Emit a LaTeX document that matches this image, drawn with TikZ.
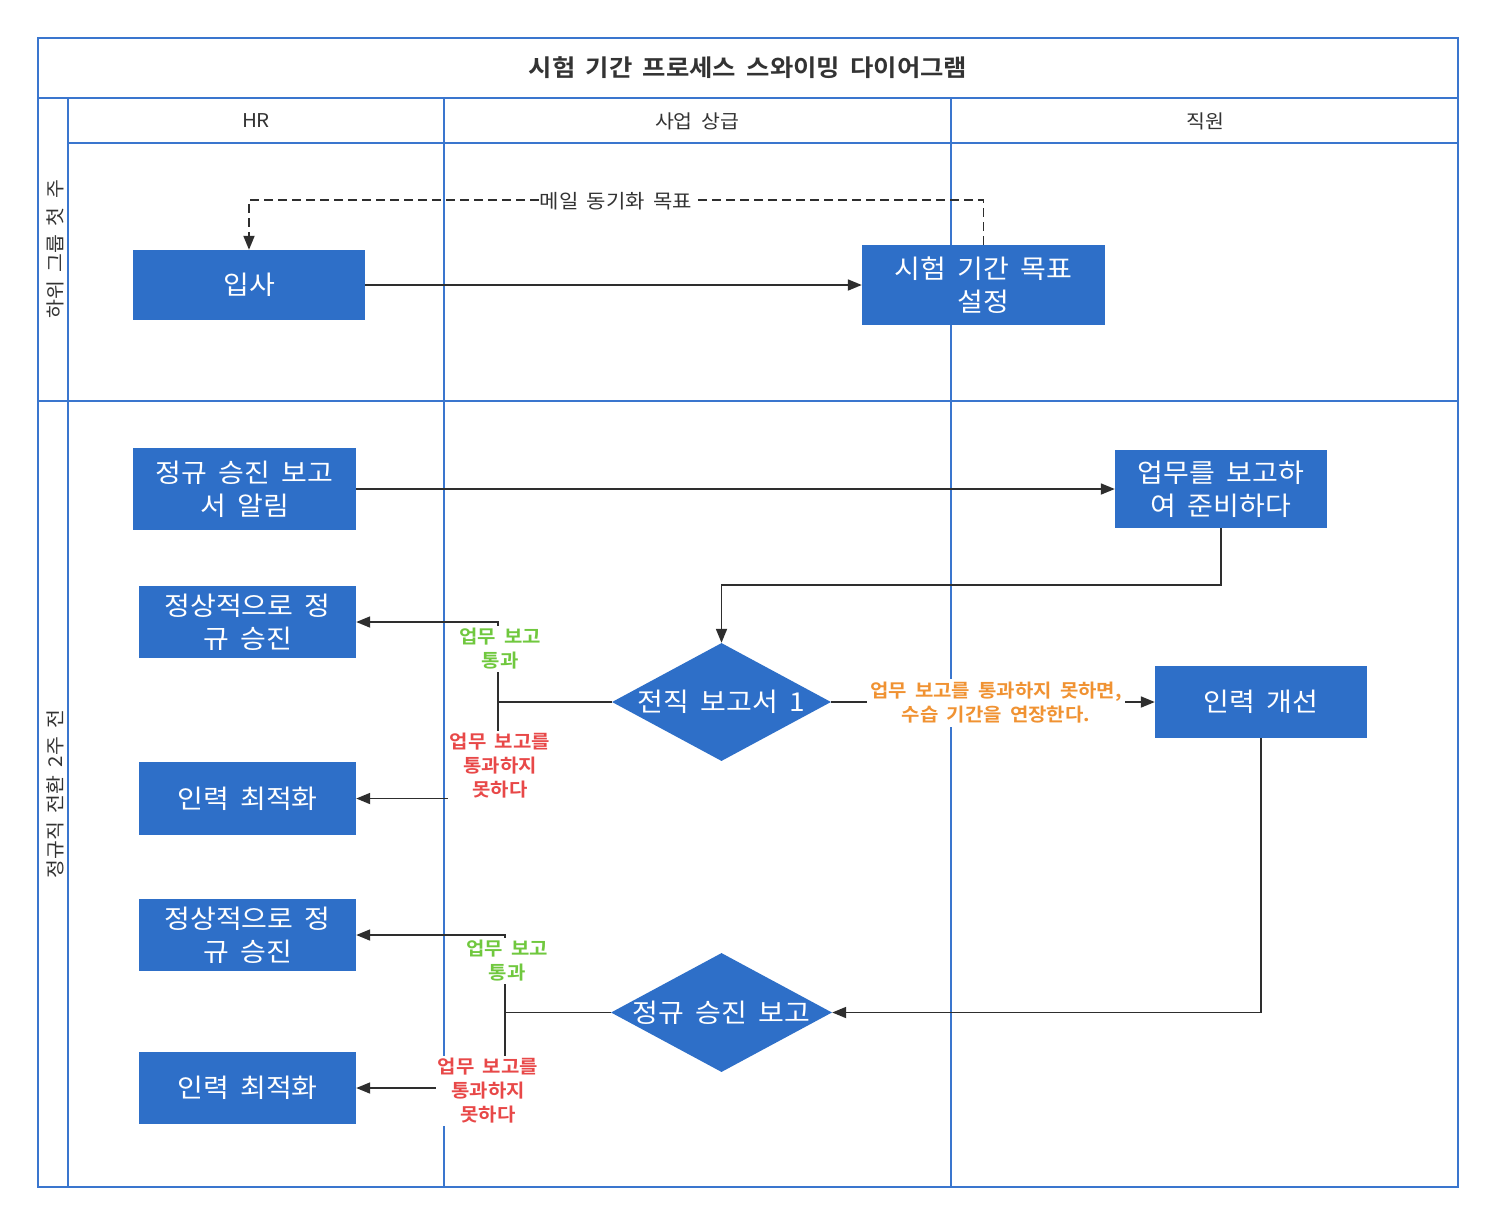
\documentclass[tikz,border=0pt]{standalone}
\usepackage{fontspec}
\setmainfont{Noto Sans CJK KR}[BoldFont={Noto Sans CJK KR Bold},FakeStretch=1.08,WordSpace=1.8]
\usetikzlibrary{arrows.meta,shapes.geometric}
\definecolor{lanecol}{RGB}{58,118,206}
\definecolor{boxblue}{RGB}{46,111,200}
\definecolor{txtcol}{RGB}{51,51,51}
\definecolor{okgreen}{RGB}{112,200,62}
\definecolor{nored}{RGB}{232,72,72}
\definecolor{orng}{RGB}{240,146,50}
\begin{document}
\begin{tikzpicture}[x=1pt,y=-1pt,
  laneline/.style={draw=lanecol,line width=2.6pt},
  hdr/.style={text=txtcol,font=\fontsize{19}{23}\selectfont,inner sep=0pt},
  proc/.style={fill=boxblue,draw=none,text=white,align=center,inner sep=0pt,
    font=\fontsize{26}{33}\selectfont},
  decision/.style={diamond,fill=boxblue,draw=none,text=white,inner sep=0pt,
    font=\fontsize{26}{33}\selectfont},
  conn/.style={draw=txtcol!90!black,line width=1.8pt,-{Triangle[length=14pt,width=11pt]}},
  elabel/.style={fill=white,inner sep=2pt,align=center,font=\bfseries\fontsize{18.5}{24}\selectfont}
]
\useasboundingbox[fill=white] (0,0) rectangle (1495,1224);

% swimlane grid
\draw[laneline] (38,38) rectangle (1458,1187);
\draw[laneline] (38,98) -- (1458,98);
\draw[laneline] (68,143) -- (1458,143);
\draw[laneline] (68,98) -- (68,1187);
\draw[laneline] (444,98) -- (444,1187);
\draw[laneline] (951,98) -- (951,1187);
\draw[laneline] (38,401) -- (1458,401);

\node[text=txtcol,font=\bfseries\fontsize{23.5}{27}\selectfont] (title) at (748,68) {시험 기간 프로세스 스와이밍 다이어그램};
\node[hdr] (hHR) at (256,121) {HR};
\node[hdr] (hBoss) at (697,121) {사업 상급};
\node[hdr] (hEmp) at (1205,121) {직원};
\node[hdr,rotate=90] (lane1) at (55,249) {하위 그룹 첫 주};
\node[hdr,rotate=90] (lane2) at (55,794) {정규직 전환 2주 전};

% nodes
\node[proc,minimum width=232pt,minimum height=70pt] (join) at (249,285) {입사};
\node[proc,minimum width=243pt,minimum height=80pt] (goal) at (983.5,285) {시험 기간 목표\\설정};
\node[proc,minimum width=223pt,minimum height=82pt] (notice) at (244.5,489) {정규 승진 보고\\서 알림};
\node[proc,minimum width=212pt,minimum height=78pt] (prep) at (1221,489) {업무를 보고하\\여 준비하다};
\node[proc,minimum width=217pt,minimum height=72pt] (pass1) at (247.5,622) {정상적으로 정\\규 승진};
\node[decision,minimum width=219pt,minimum height=118pt] (d1) at (721.5,702) {\makebox[0pt]{전직 보고서 1}};
\node[proc,minimum width=212pt,minimum height=72pt] (improve) at (1261,702) {인력 개선};
\node[proc,minimum width=217pt,minimum height=73pt] (opt1) at (247.5,798.5) {인력 최적화};
\node[proc,minimum width=217pt,minimum height=72pt] (pass2) at (247.5,935) {정상적으로 정\\규 승진};
\node[decision,minimum width=221pt,minimum height=119pt] (d2) at (721.5,1012.5) {\makebox[0pt]{정규 승진 보고}};
\node[proc,minimum width=217pt,minimum height=72pt] (opt2) at (247.5,1088) {인력 최적화};

% connectors
\draw[conn] (join.east) -- (goal.west);
\draw[conn,dash pattern=on 9pt off 5pt] (goal.north) -- ++(0,-45) -| (join.north);
\node[fill=white,inner sep=1pt,text=txtcol,font=\fontsize{19.5}{22}\selectfont] (mail) at (616,201) {메일 동기화 목표};

\draw[conn] (notice.east) -- (prep.west);
\draw[conn] (prep.south) |- (721.5,585) -- (d1.north);

\draw[conn] (d1.west) -- (498,702) |- (pass1.east);
\draw[conn] (d1.west) -- (498,702) |- (opt1.east);
\node[elabel,text=okgreen] (l1) at (500,649) {업무 보고\\통과};
\node[elabel,text=nored] (l2) at (500,766) {업무 보고를\\통과하지\\못하다};

\draw[conn] (d1.east) -- (improve.west);
\node[elabel,text=orng,inner sep=3pt] (l3) at (996,703) {업무 보고를 통과하지 못하면,\\수습 기간을 연장한다.};

\draw[conn] (improve.south) |- (d2.east);

\draw[conn] (d2.west) -- (505,1012.5) |- (pass2.east);
\draw[conn] (d2.west) -- (505,1012.5) |- (opt2.east);
\node[elabel,text=okgreen] (l4) at (507,961) {업무 보고\\통과};
\node[elabel,text=nored] (l5) at (488,1091) {업무 보고를\\통과하지\\못하다};
\end{tikzpicture}
\end{document}
